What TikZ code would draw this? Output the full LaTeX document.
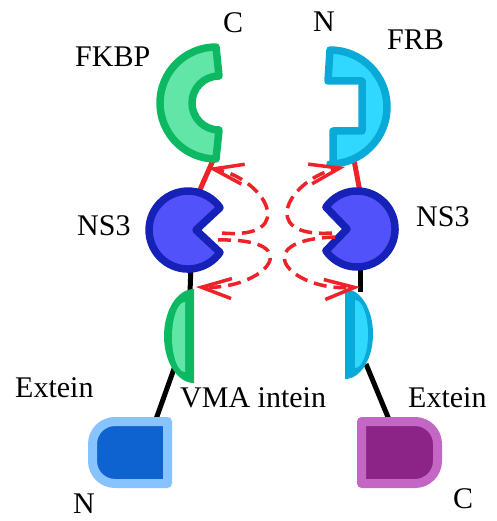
\documentclass[tikz,border=0pt]{standalone}
\usepackage{fontspec}
\setmainfont{Liberation Serif}
\usetikzlibrary{arrows.meta}

\definecolor{fkbpfill}{HTML}{62E6A8}
\definecolor{fkbpline}{HTML}{0DB862}
\definecolor{frbfill}{HTML}{30D8FF}
\definecolor{frbline}{HTML}{0AAAD8}
\definecolor{nsfill}{HTML}{5252FA}
\definecolor{nsline}{HTML}{1621B8}
\definecolor{linkred}{HTML}{EE2228}
\definecolor{nfill}{HTML}{0F63D0}
\definecolor{nline}{HTML}{86C3FF}
\definecolor{cfill}{HTML}{8C2488}
\definecolor{cline}{HTML}{C466C4}

\tikzset{
  lbl/.style={inner sep=0pt, anchor=base west, font=\fontsize{30}{36}\selectfont},
  protshape/.style={line width=7.5pt, line join=round},
  exteinbox/.style={line width=9pt, line join=round},
  redlink/.style={linkred, line width=5pt},
  blacklink/.style={black, line width=5pt},
  swaparrow/.style={linkred, line width=3.5pt, dash pattern=on 13pt off 7pt,
    -{Straight Barb[length=30pt,width=20pt]}},
}

\begin{document}
\begin{tikzpicture}[x=1pt,y=-1pt]
\useasboundingbox (0,0) rectangle (496,521);

% attachment points
\coordinate (fkbpB) at (214,158);
\coordinate (nsLT)  at (199,192);
\coordinate (frbB)  at (354,160);
\coordinate (nsRT)  at (360,192);
\coordinate (nsLB)  at (191,266);
\coordinate (intLT) at (190,292);
\coordinate (nsRB)  at (360,265);
\coordinate (intRT) at (360,292);
\coordinate (intLB) at (175,366);
\coordinate (extNT) at (155,422);
\coordinate (intRB) at (366,364);
\coordinate (extCT) at (390,422);

% linkers
\draw[redlink] (fkbpB) -- (nsLT);
\draw[redlink] (frbB) -- (nsRT);
\draw[blacklink] (nsLB) -- (intLT);
\draw[blacklink] (nsRB) -- (intRT);
\draw[blacklink] (intLB) -- (extNT);
\draw[blacklink] (intRB) -- (extCT);

% FKBP
\filldraw[protshape, draw=fkbpline, fill=fkbpfill]
  (216,47) arc[start angle=-90, end angle=-270, radius=56]
  -- (219,130) arc[start angle=90, end angle=270, radius=27] -- cycle;

% FRB
\filldraw[protshape, draw=frbline, fill=frbfill]
  (330,50) arc[start angle=-90, end angle=90, radius=57]
  -- (333,164) -- (333,131) -- (362,131) -- (362,81) -- (328,81) -- cycle;

% NS3 (left and right)
\filldraw[protshape, draw=nsline, fill=nsfill]
  (220,252.4) arc[start angle=35, end angle=325, radius=39] -- (196,230) -- cycle;
\filldraw[protshape, draw=nsline, fill=nsfill]
  (325.9,207.2) arc[start angle=215, end angle=505, radius=38] -- (347,229) -- cycle;

% split VMA intein halves
\fill[fkbpline] (194,289) arc[start angle=-90, end angle=-270, x radius=30, y radius=47] -- cycle;
\fill[fkbpfill] (185,302) arc[start angle=-90, end angle=-270, x radius=13, y radius=35] -- cycle;
\fill[frbline] (345,289) arc[start angle=-90, end angle=90, x radius=28, y radius=45] -- cycle;
\fill[frbfill] (355,300) arc[start angle=-90, end angle=90, x radius=13, y radius=34] -- cycle;

% exteins
\filldraw[exteinbox, draw=nline, fill=nfill]
  (167.5,421.5) -- (115,421.5) arc[start angle=-90, end angle=-180, radius=22.5]
  -- (92.5,461) arc[start angle=180, end angle=90, radius=22.5]
  -- (167.5,483.5) -- cycle;
\filldraw[exteinbox, draw=cline, fill=cfill]
  (361.5,421.5) -- (415,421.5) arc[start angle=-90, end angle=0, radius=22.5]
  -- (437.5,461) arc[start angle=0, end angle=90, radius=22.5]
  -- (361.5,483.5) -- cycle;

% dimerisation arrows
\coordinate (mLu) at (222,233);
\coordinate (mLd) at (218,240);
\coordinate (mRu) at (332,233);
\coordinate (mRd) at (335,237);
\coordinate (tLu) at (208,168);
\coordinate (tLd) at (196,287);
\coordinate (tRu) at (345,167);
\coordinate (tRd) at (360,287);
\draw[swaparrow] (mLu) .. controls (300,240) and (265,178) .. (tLu);
\draw[swaparrow] (mLd) .. controls (310,238) and (265,290) .. (tLd);
\draw[swaparrow] (mRu) .. controls (255,238) and (290,178) .. (tRu);
\draw[swaparrow] (mRd) .. controls (245,240) and (290,292) .. (tRd);

% labels
\node[lbl] (cTop)   at (223,33)  {C};
\node[lbl] (nTop)   at (313,32)  {N};
\node[lbl] (fkbp)   at (75,67)   {FKBP};
\node[lbl] (frb)    at (387,50)  {FRB};
\node[lbl] (nsL)    at (77,235)  {NS3};
\node[lbl] (nsR)    at (416,226) {NS3};
\node[lbl] (exL)    at (15,397)  {Extein};
\node[lbl] (vma)    at (180,407) {VMA intein};
\node[lbl] (exR)    at (408,407) {Extein};
\node[lbl] (nBot)   at (73,513)  {N};
\node[lbl] (cBot)   at (453,508) {C};
\end{tikzpicture}
\end{document}
